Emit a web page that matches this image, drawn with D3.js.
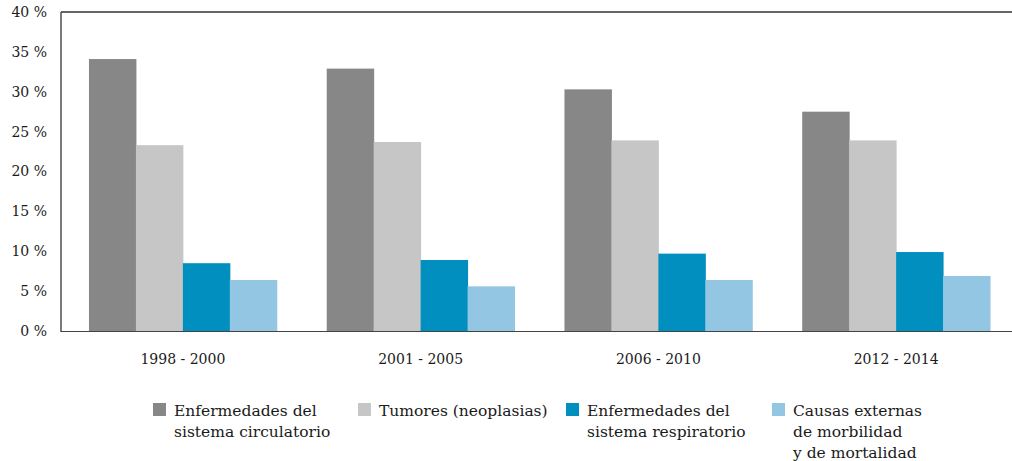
<!DOCTYPE html>
<html>
<head>
<meta charset="utf-8">
<script src="https://cdn.jsdelivr.net/npm/d3@7"></script>
<style>
  body { margin: 0; background: #fff; }
  text { font-family: "DejaVu Serif", serif; fill: #1a1a1a; }
</style>
</head>
<body>
<script>
(function(){

    const svgWidth = 1012,
        svgHeight = 461;

    // data
    const periods = ["1998 - 2000", "2001 - 2005", "2006 - 2010", "2012 - 2014"];
    const seriesNames = [
        ["Enfermedades del", "sistema circulatorio"],
        ["Tumores (neoplasias)"],
        ["Enfermedades del", "sistema respiratorio"],
        ["Causas externas", "de morbilidad", "y de mortalidad"]
    ];
    const circulatorio = [34.1, 32.9, 30.3, 27.5];
    const tumores = [23.3, 23.7, 23.9, 23.9];
    const respiratorio = [8.5, 8.9, 9.7, 9.9];
    const externas = [6.4, 5.6, 6.4, 6.9];
    const yTicks = [0, 5, 10, 15, 20, 25, 30, 35, 40];

    const colors = ["#878787", "#c6c6c6", "#008fbe", "#93c6e2"];
    const series = [circulatorio, tumores, respiratorio, externas];

    const svg = d3.select("body")
        .append("svg")
        .attr("width", svgWidth)
        .attr("height", svgHeight);

    const x0 = d3.scaleBand()
        .domain(periods)
        .range([64, 1015])
        .paddingInner(0.21)
        .paddingOuter(0.105);

    const x1 = d3.scaleBand()
        .domain(d3.range(series.length))
        .range([0, x0.bandwidth()]);

    const y = d3.scaleLinear()
        .domain([0, 40])
        .range([331, 12]);

    // bars
    const groups = svg.append("g")
        .selectAll("g")
        .data(periods)
        .join("g")
        .attr("transform", d => `translate(${x0(d)},0)`);

    groups.selectAll("rect")
        .data((p, i) => series.map((s, k) => ({k: k, v: s[i]})))
        .join("rect")
        .attr("x", d => x1(d.k))
        .attr("width", x1.bandwidth() + 0.5)
        .attr("y", d => y(d.v))
        .attr("height", d => y(0) - y(d.v))
        .attr("fill", d => colors[d.k]);

    // y axis labels
    const leftAxis = d3.axisLeft(y)
        .tickValues(yTicks)
        .tickSize(0)
        .tickPadding(14)
        .tickFormat(d => d + " %");

    const yAxis = svg.append("g")
        .attr("transform", "translate(61,0)")
        .call(leftAxis);
    yAxis.select(".domain").remove();
    yAxis.selectAll("text")
        .attr("font-size", 14)
        .attr("font-family", "DejaVu Serif")
        .attr("fill", "#111");

    // frame lines
    svg.append("line")
        .attr("x1", 61).attr("x2", 61)
        .attr("y1", y(40)).attr("y2", y(0) + 1)
        .attr("stroke", "#222").attr("stroke-width", 1.2);
    svg.append("line")
        .attr("x1", 61).attr("x2", svgWidth)
        .attr("y1", y(40)).attr("y2", y(40))
        .attr("stroke", "#333").attr("stroke-width", 1.5);
    svg.append("line")
        .attr("x1", 61).attr("x2", svgWidth)
        .attr("y1", y(0) + 0.5).attr("y2", y(0) + 0.5)
        .attr("stroke", "#444").attr("stroke-width", 1.2);

    // category labels
    svg.append("g")
        .selectAll("text")
        .data(periods)
        .join("text")
        .attr("x", d => x0(d) + x0.bandwidth() / 2)
        .attr("y", 364)
        .attr("text-anchor", "middle")
        .attr("font-size", 14)
        .attr("fill", "#111")
        .text(d => d);

    // legend
    const legendX = [153, 358, 566, 772];
    const legend = svg.append("g")
        .selectAll("g")
        .data(seriesNames)
        .join("g")
        .attr("transform", (d, i) => `translate(${legendX[i]},403)`);

    legend.append("rect")
        .attr("width", 13)
        .attr("height", 13)
        .attr("fill", (d, i) => colors[i]);

    legend.append("text")
        .attr("x", 21)
        .attr("font-size", 15.5)
        .attr("fill", "#111")
        .selectAll("tspan")
        .data(d => d)
        .join("tspan")
        .attr("x", 21)
        .attr("y", (d, j) => 13 + j * 21)
        .text(d => d);

})();
</script>
</body>
</html>
